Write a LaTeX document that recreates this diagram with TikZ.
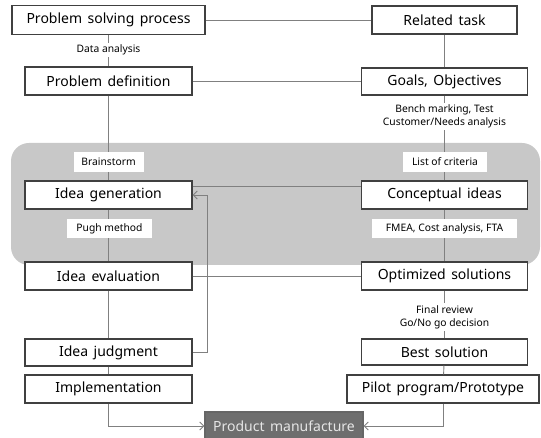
\documentclass[tikz,border=0pt]{standalone}
\usepackage{fontspec}
\setmainfont{Noto Sans}
\newfontfamily\wideface[WordSpace=1.5]{Noto Sans}
\usetikzlibrary{arrows.meta}
\definecolor{boxline}{HTML}{404040}
\definecolor{conn}{HTML}{808080}
\definecolor{panel}{HTML}{C8C8C8}
\definecolor{pmfill}{HTML}{6E6E6E}
\tikzset{
  stepbox/.style={draw=boxline, line width=1.3pt, fill=white, inner sep=0pt,
    minimum height=28pt, font=\wideface\fontsize{14}{16}\selectfont, text=black},
  lbl/.style={fill=white, inner sep=0pt, font=\fontsize{10.3}{13}\selectfont, text=black, align=center},
  conline/.style={draw=conn, line width=0.9pt},
  arr/.style={conline, -{Straight Barb[length=4pt,width=8pt]}}
}
\begin{document}
\begin{tikzpicture}[x=1pt,y=-1pt]
\useasboundingbox (0,0) rectangle (541,438);
% gray panel
\fill[panel, rounded corners=18pt] (11,143) rectangle (540,265);
% left column
\node[stepbox, minimum width=193pt, minimum height=29pt] (psp) at (108.5,20) {Problem solving process};
\node[stepbox, minimum width=167pt] (pd) at (108.5,81) {Problem definition};
\node[stepbox, minimum width=167pt] (ig) at (108.5,195) {Idea generation};
\node[stepbox, minimum width=167pt] (ie) at (108.5,276) {Idea evaluation};
\node[stepbox, minimum width=167pt, minimum height=27pt] (ij) at (108.5,352.5) {Idea judgment};
\node[stepbox, minimum width=167pt] (im) at (108.5,389) {Implementation};
% right column
\node[stepbox, minimum width=145pt] (rt) at (444.5,20) {Related task};
\node[stepbox, minimum width=166pt, minimum height=27pt] (go) at (444.5,81.5) {Goals, Objectives};
\node[stepbox, minimum width=166pt] (ci) at (444.5,195) {Conceptual ideas};
\node[stepbox, minimum width=166pt] (os) at (444.5,276) {Optimized solutions};
\node[stepbox, minimum width=166pt, minimum height=26pt] (bs) at (444.5,352) {Best solution};
\node[stepbox, minimum width=192pt] (pp) at (443,389) {Pilot program/Prototype};
% product
\node[stepbox, draw=boxline!80, fill=pmfill, text=white!90!black, minimum width=158pt] (pm) at (284,426) {Product manufacture};
% vertical connectors
\draw[conline] (psp) -- (pd);
\draw[conline] (pd) -- (ig);
\draw[conline] (ig) -- (ie);
\draw[conline] (ie) -- (ij);
\draw[conline] (ij) -- (im);
\draw[conline] (rt) -- (go);
\draw[conline] (go) -- (ci);
\draw[conline] (ci) -- (os);
\draw[conline] (os) -- (bs);
\draw[conline] (bs) -- (pp);
% horizontal connectors
\draw[conline] (psp.east) -- (rt.west);
\draw[conline] (pd.east) -- (go.west |- pd.east);
\draw[conline] ([yshift=9pt]ci.west) -- ([yshift=9pt]ig.east);
\draw[conline] (ie.east) -- (os.west);
% feedback
\coordinate (fb) at (207,352.5);
\draw[arr] (ij.east) -- (fb) |- (ig.east);
% to product
\draw[arr] (im.south) |- (pm.west);
\draw[arr] (pp.south) |- (pm.east);
% labels
\node[lbl, inner xsep=3pt, inner ysep=2pt] (l1) at (108.5,50) {Data analysis};
\node[lbl, inner xsep=3pt, inner ysep=2pt] (l2) at (444.5,116.5) {Bench marking, Test\\Customer/Needs analysis};
\node[lbl, minimum width=70pt, minimum height=20pt] (l3) at (108.5,162) {Brainstorm};
\node[lbl, minimum width=84pt, minimum height=20pt] (l4) at (445,162) {List of criteria};
\node[lbl, minimum width=85pt, minimum height=19pt] (l5) at (109.5,228.5) {Pugh method};
\node[lbl, minimum width=145pt, minimum height=19pt] (l6) at (444.5,228.5) {FMEA, Cost analysis, FTA};
\node[lbl, inner xsep=3pt, inner ysep=2pt] (l7) at (444.5,317) {Final review\\Go/No go decision};
\end{tikzpicture}
\end{document}
